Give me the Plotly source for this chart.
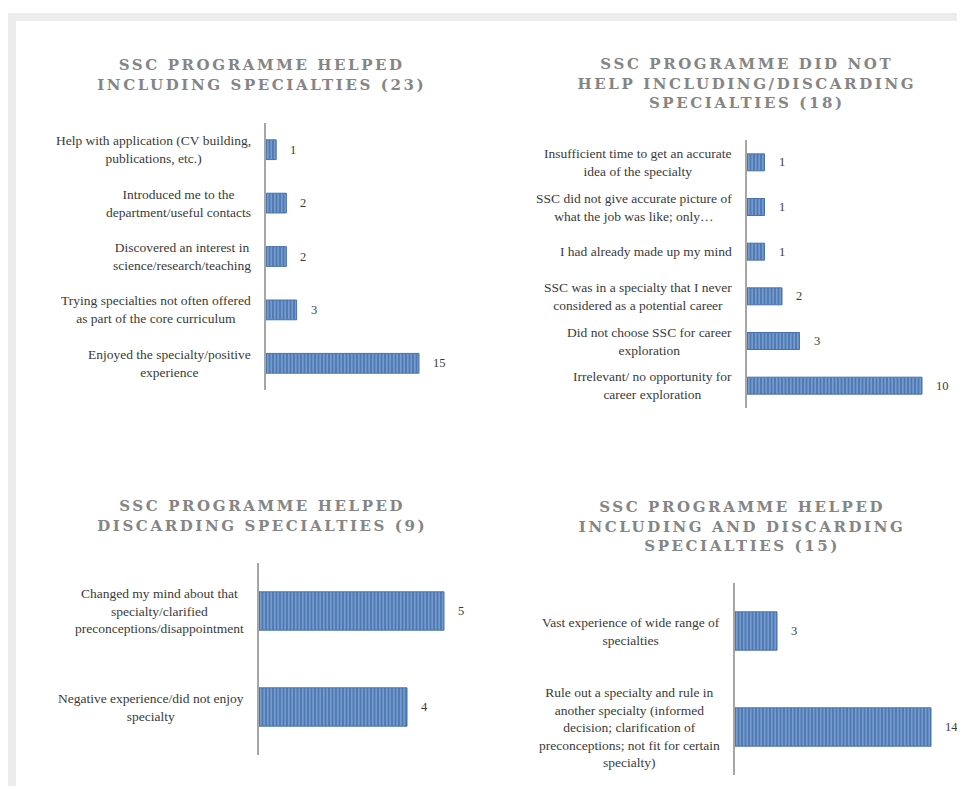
import plotly.graph_objects as go

W, H = 965, 789
OFF = 8            # default body margin of the html page
FW, FH = W - OFF, H - OFF

# ---------------- data ----------------
title1 = "SSC PROGRAMME HELPED<br>INCLUDING SPECIALTIES (23)"
cats1 = ["Help with application (CV building,<br>publications, etc.)",
         "Introduced me to the<br>department/useful contacts",
         "Discovered an interest in<br>science/research/teaching",
         "Trying specialties not often offered<br>as part of the core curriculum",
         "Enjoyed the specialty/positive<br>experience"]
vals1 = [1, 2, 2, 3, 15]

title2 = "SSC PROGRAMME DID NOT<br>HELP INCLUDING/DISCARDING<br>SPECIALTIES (18)"
cats2 = ["Insufficient time to get an accurate<br>idea of the specialty",
         "SSC did not give accurate picture of<br>what the job was like; only…",
         "I had already made up my mind",
         "SSC was in a specialty that I never<br>considered as a potential career",
         "Did not choose SSC for career<br>exploration",
         "Irrelevant/ no opportunity for<br>career exploration"]
vals2 = [1, 1, 1, 2, 3, 10]

title3 = "SSC PROGRAMME HELPED<br>DISCARDING SPECIALTIES (9)"
cats3 = ["Changed my mind about that<br>specialty/clarified<br>preconceptions/disappointment",
         "Negative experience/did not enjoy<br>specialty"]
vals3 = [5, 4]

title4 = "SSC PROGRAMME HELPED<br>INCLUDING AND DISCARDING<br>SPECIALTIES (15)"
cats4 = ["Vast experience of wide range of<br>specialties",
         "Rule out a specialty and rule in<br>another specialty (informed<br>decision; clarification of<br>preconceptions; not fit for certain<br>specialty)"]
vals4 = [3, 14]

panels = [
    # title, cats, vals, x0px, x1px, y0px, y1px, xmax, bar width, title x, title y
    (title1, cats1, vals1, 266, 470, 123, 390, 20, 0.37, 262, 75),
    (title2, cats2, vals2, 747, 957, 140, 408, 12, 0.38, 747, 84),
    (title3, cats3, vals3, 259, 481, 563, 755, 6, 0.40, 262, 516),
    (title4, cats4, vals4, 735, 959, 583, 775, 16, 0.40, 742, 526),
]

FONT = "Liberation Serif"
TEXT = "#3a3a3a"
TITLE_C = "#858585"


def px_x(p):
    return (p - OFF) / FW


def px_y(p):
    return 1 - (p - OFF) / FH


fig = go.Figure()
annotations = []
layout = {}

for i, (title, cats, vals, x0, x1, y0, y1, xmax, bw, tx, ty) in enumerate(panels, start=1):
    sfx = "" if i == 1 else str(i)
    xa, ya = "x" + sfx, "y" + sfx
    fig.add_trace(go.Bar(
        x=vals, y=cats, orientation="h", xaxis=xa, yaxis=ya, width=bw,
        marker=dict(color="#4f7cb8",
                    line=dict(color="#4a72aa", width=1),
                    pattern=dict(shape="|", size=3.5, solidity=0.4,
                                 fgcolor="#b5cdec", bgcolor="#4d79b4")),
        showlegend=False, hoverinfo="x+y",
    ))
    layout["xaxis" + sfx] = dict(domain=[px_x(x0), px_x(x1)], range=[0, xmax],
                                 anchor=ya, showgrid=False, zeroline=False,
                                 showticklabels=False, ticks="", showline=False,
                                 fixedrange=True)
    layout["yaxis" + sfx] = dict(domain=[px_y(y1), px_y(y0)], anchor=xa,
                                 autorange="reversed", showgrid=False,
                                 showticklabels=False, ticks="",
                                 showline=True, linecolor="#a6a6a6", linewidth=2,
                                 type="category", fixedrange=True)
    # category labels (centered multi-line, right edge near the axis)
    for c in cats:
        annotations.append(dict(
            x=0, y=c, xref=xa, yref=ya, text=c, showarrow=False,
            xanchor="right", yanchor="middle", align="center", xshift=-13,
            font=dict(family=FONT, size=13.5, color=TEXT)))
    # value labels
    for c, v in zip(cats, vals):
        annotations.append(dict(
            x=v, y=c, xref=xa, yref=ya, text=str(v), showarrow=False,
            xanchor="left", yanchor="middle", xshift=12,
            font=dict(family=FONT, size=12.5, color=TEXT)))
    # title
    annotations.append(dict(
        x=px_x(tx), y=px_y(ty), xref="paper", yref="paper", text="<b>" + title + "</b>",
        showarrow=False, xanchor="center", yanchor="middle", align="center",
        font=dict(family="DejaVu Serif", size=15, color=TITLE_C)))

# grey frame (top and left bands)
shapes = [
    dict(type="rect", xref="paper", yref="paper", x0=px_x(8), x1=px_x(963),
         y0=px_y(21), y1=px_y(13), fillcolor="#ececec", line=dict(width=0), layer="below"),
    dict(type="rect", xref="paper", yref="paper", x0=px_x(8), x1=px_x(16),
         y0=px_y(786), y1=px_y(21), fillcolor="#ececec", line=dict(width=0), layer="below"),
]

fig.update_layout(
    width=FW, height=FH, margin=dict(l=0, r=0, t=0, b=0),
    paper_bgcolor="white", plot_bgcolor="rgba(0,0,0,0)",
    annotations=annotations, shapes=shapes, **layout,
)

# widen the spaced-capital chart titles as in the original
post = """
var gd = document.getElementById('{plot_id}');
gd.querySelectorAll('.annotation-text').forEach(function(t){
  if (t.textContent.indexOf('SSC PROGRAMME') === 0 || t.textContent.indexOf('SPECIALTIES (') >= 0 && t.textContent === t.textContent.toUpperCase()) {
    t.style.letterSpacing = '2.6px';
  }
});
"""

fig.write_html("out.html", config={"displayModeBar": False}, post_script=post)
